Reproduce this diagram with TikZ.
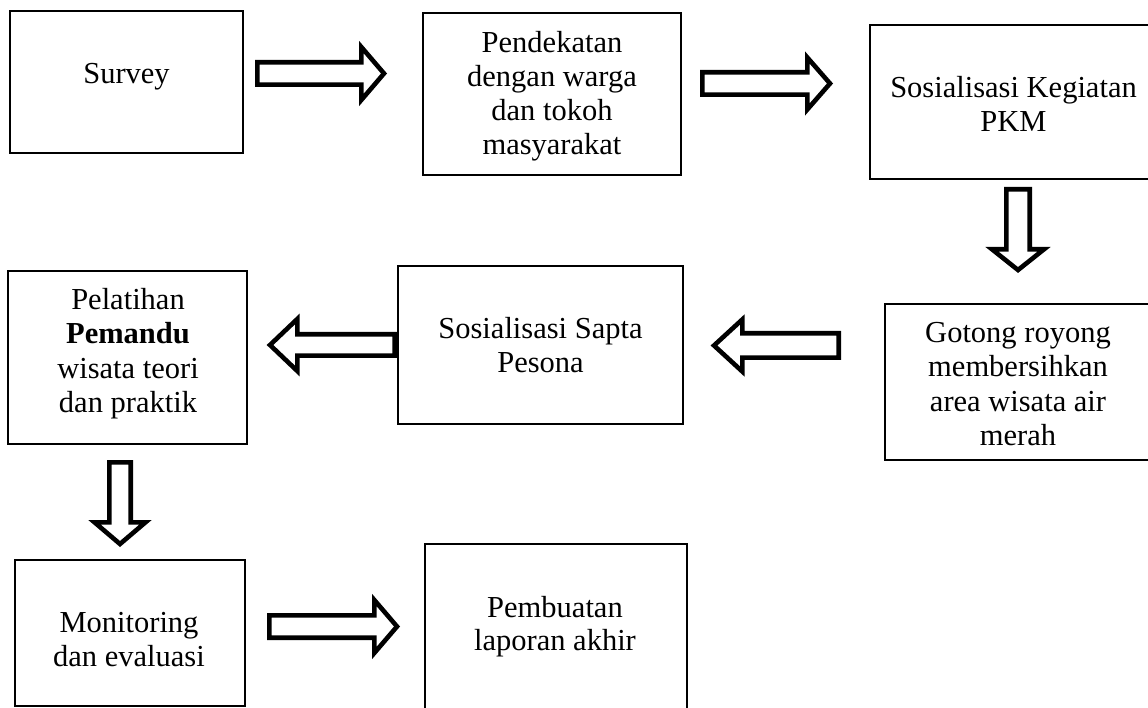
\documentclass[tikz,border=0pt]{standalone}
\usepackage{fontspec}
\setmainfont{Liberation Serif}
\tikzset{
  box/.style={draw=black, line width=1.2pt, inner sep=0pt, fill=none},
  lbl/.style={anchor=base, inner sep=0pt, font=\fontsize{30.5}{34}\selectfont},
  blk/.style={draw=black, fill=white, line width=4.6pt, line join=miter, miter limit=10},
}
% horizontal block arrow: tail x, head-base x, tip x, centre y, half shaft, half head
\newcommand\myHarrow[6]{\draw[blk] (#1,{#4-#5}) -- (#2,{#4-#5}) -- (#2,{#4-#6}) -- (#3,#4) -- (#2,{#4+#6}) -- (#2,{#4+#5}) -- (#1,{#4+#5}) -- cycle;}
% vertical block arrow: centre x, tail y, head-base y, tip y, half shaft, half head
\newcommand\myVarrow[6]{\draw[blk] ({#1-#5},#2) -- ({#1-#5},#3) -- ({#1-#6},#3) -- (#1,#4) -- ({#1+#6},#3) -- ({#1+#5},#3) -- ({#1+#5},#2) -- cycle;}
\begin{document}
\begin{tikzpicture}[x=1pt,y=-1pt]
\useasboundingbox (0,0) rectangle (1148,708);
\clip (0,0) rectangle (1148,708);
\fill[white] (0,0) rectangle (1148,708);

% boxes
\node[box, minimum width=233pt, minimum height=142pt] (survey) at (126.5,82) {};
\node[box, minimum width=258pt, minimum height=162pt] (pend) at (552,94) {};
\node[box, minimum width=282pt, minimum height=154pt] (pkm) at (1011,102) {};
\node[box, minimum width=267pt, minimum height=156pt] (gotong) at (1018.5,382) {};
\node[box, minimum width=285pt, minimum height=158pt] (sapta) at (540.5,345) {};
\node[box, minimum width=239pt, minimum height=173pt] (pelatihan) at (127.5,357.5) {};
\node[box, minimum width=230pt, minimum height=146pt] (monitor) at (130,633) {};
\node[box, minimum width=262pt, minimum height=170pt] (laporan) at (556,629) {};

% texts
\node[lbl] (t1) at (126.5,84) {Survey};

\node[lbl] (t2a) at (552,53) {Pendekatan};
\node[lbl] (t2b) at (552,87) {dengan warga};
\node[lbl] (t2c) at (552,121) {dan tokoh};
\node[lbl] (t2d) at (552,155) {masyarakat};

\node[lbl] (t3a) at (1013.5,98) {Sosialisasi Kegiatan};
\node[lbl] (t3b) at (1013.5,132) {PKM};

\node[lbl] (t4a) at (1018,343) {Gotong royong};
\node[lbl] (t4b) at (1018,377) {membersihkan};
\node[lbl] (t4c) at (1018,411) {area wisata air};
\node[lbl] (t4d) at (1018,445) {merah};

\node[lbl] (t5a) at (540.5,339) {Sosialisasi Sapta};
\node[lbl] (t5b) at (540.5,373) {Pesona};

\node[lbl] (t6a) at (128,310) {Pelatihan};
\node[lbl] (t6b) at (128,344) {\textbf{Pemandu}};
\node[lbl] (t6c) at (128,378) {wisata teori};
\node[lbl] (t6d) at (128,412) {dan praktik};

\node[lbl] (t7a) at (129,632.5) {Monitoring};
\node[lbl] (t7b) at (129,666.5) {dan evaluasi};

\node[lbl] (t8a) at (555,617) {Pembuatan};
\node[lbl] (t8b) at (555,650) {laporan akhir};

% block arrows
\myHarrow{257.3}{361.3}{384}{73.5}{11.2}{26.5}
\myHarrow{702.3}{807.3}{830}{83.5}{11.2}{26}
\myVarrow{1018}{189.3}{249.3}{270}{11.7}{26}
\myHarrow{838.7}{742.3}{714}{345.5}{12.2}{26}
\myHarrow{394.7}{297.3}{270}{345}{10.7}{26}
\myVarrow{120}{462.3}{522.3}{544}{10.7}{25.5}
\myHarrow{269.3}{374.3}{397}{626.5}{11.2}{26.5}
\end{tikzpicture}
\end{document}
